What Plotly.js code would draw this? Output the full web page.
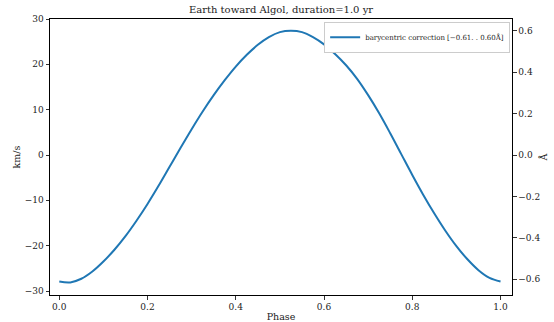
<!DOCTYPE html>
<html>
<head>
<meta charset="utf-8">
<script src="https://cdn.plot.ly/plotly-3.0.1.min.js"></script>
<style>html,body{margin:0;padding:0;background:#fff;}#plot{width:554px;height:322px;}</style>
</head>
<body>
<div id="plot"></div>
<script>
const phase = [0.000,0.025,0.050,0.075,0.100,0.125,0.150,0.175,0.200,0.225,0.250,0.275,0.300,0.325,0.350,0.375,0.400,0.425,0.450,0.475,0.500,0.525,0.550,0.575,0.600,0.625,0.650,0.675,0.700,0.725,0.750,0.775,0.800,0.825,0.850,0.875,0.900,0.925,0.950,0.975,1.000];
const kms = [-27.9,-28.1,-27.3,-25.7,-23.5,-20.9,-17.9,-14.5,-10.8,-6.8,-2.6,1.6,5.7,9.6,13.2,16.5,19.5,22.1,24.3,26.0,27.1,27.4,27.1,26.0,24.4,22.3,19.8,16.8,13.2,9.2,4.8,0.2,-4.4,-8.8,-12.9,-16.7,-20.1,-23.0,-25.4,-27.1,-27.9];
const xTicks = [0.0,0.2,0.4,0.6,0.8,1.0];
const yTicks = [-30,-20,-10,0,10,20,30];
const y2Ticks = [-0.6,-0.4,-0.2,0.0,0.2,0.4,0.6];
const legendLabel = 'barycentric correction [−0.61. . 0.60Å]';

const font = 'DejaVu Serif, serif';
const traces = [
  {x: phase, y: kms, type: 'scatter', mode: 'lines', line: {color: '#1f77b4', width: 2, shape: 'spline', smoothing: 1}, name: legendLabel},
  {x: [null], y: [null], yaxis: 'y2', type: 'scatter', mode: 'lines', showlegend: false, hoverinfo: 'skip'}
];
const axisCommon = {showgrid: false, zeroline: false, showline: true, linecolor: '#000', linewidth: 1,
  ticks: 'outside', ticklen: 3.5, tickwidth: 0.8, tickcolor: '#000', tickfont: {family: font, size: 9, color: '#222'}};
const layout = {
  width: 554, height: 322,
  margin: {l: 50, r: 42, t: 19, b: 27},
  paper_bgcolor: '#fff', plot_bgcolor: '#fff',
  font: {family: font, size: 9, color: '#222'},
  title: {text: 'Earth toward Algol, duration=1.0 yr', font: {family: font, size: 10, color: '#222'}, x: 0.5, xref: 'paper', xanchor: 'center', y: 0.97, yanchor: 'middle', yref: 'container'},
  xaxis: Object.assign({}, axisCommon, {range: [-0.021, 1.026], tickvals: xTicks, tickformat: '.1f', mirror: true,
    title: {text: 'Phase', font: {family: font, size: 9.5, color: '#222'}, standoff: 2}}),
  yaxis: Object.assign({}, axisCommon, {range: [-30.88, 30], tickvals: yTicks,
    title: {text: 'km/s', font: {family: font, size: 9.5, color: '#222'}, standoff: 2}}),
  yaxis2: Object.assign({}, axisCommon, {range: [-0.676, 0.657], tickvals: y2Ticks, tickformat: '.1f', overlaying: 'y', side: 'right',
    title: {text: 'Å', font: {family: font, size: 9.5, color: '#222'}, standoff: 0}}),
  showlegend: true,
  legend: {x: 0.996, xanchor: 'right', y: 0.99, yanchor: 'top', bgcolor: '#fff', bordercolor: '#ccc', borderwidth: 1,
    font: {family: font, size: 7, color: '#222'}, itemwidth: 30, tracegroupgap: 0}
};
Plotly.newPlot('plot', traces, layout, {displayModeBar: false, staticPlot: true});
</script>
</body>
</html>
